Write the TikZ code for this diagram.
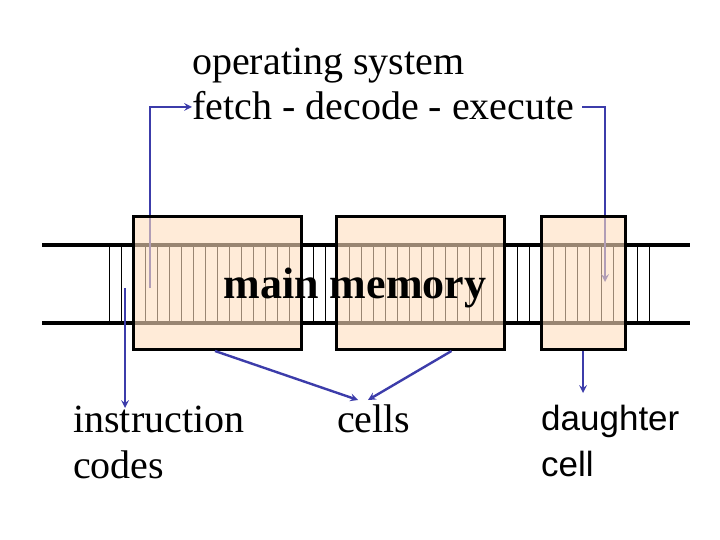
\documentclass[tikz,border=0pt]{standalone}
\usepackage{fontspec}
\setmainfont{Liberation Serif}
\setsansfont{Liberation Sans}
\usetikzlibrary{arrows, positioning, calc}
\definecolor{cellfill}{RGB}{255,222,190}
\definecolor{linkblue}{RGB}{60,60,170}

\begin{document}
\begin{tikzpicture}[
    x=1pt, y=-1pt,
    cell/.style={draw=black, line width=3pt, fill=cellfill, fill opacity=0.6},
    link/.style={->, >=stealth, draw=linkblue, line width=2.4pt},
    label/.style={anchor=base west, font=\fontsize{40}{46}\selectfont, inner sep=0pt},
    sanslabel/.style={label, font=\fontsize{35}{46}\sffamily},
]
\useasboundingbox (0,0) rectangle (720,540);

% Tape
\foreach \x in {109,121,...,652} \draw[line width=0.8pt] (\x,245) -- (\x,323);
\draw[line width=4.5pt] (42,245) -- (690,245);
\draw[line width=4.5pt] (42,323) -- (690,323);

% Arrows behind the cells
\coordinate (osIn) at (150,288);
\coordinate (osOut) at (605,282);
\node[label] (OS) at (192,75) {operating system};
\node[label] (FDE) at (192,120) {fetch - decode - execute};
\draw[link] (osIn) |- (FDE.west |- 0,107);
\draw[link] (582,107) -| (osOut);

% Cells
\node[cell, minimum width=168pt, minimum height=133pt, anchor=north west] (CellA) at (132,215) {};
\node[cell, minimum width=168pt, minimum height=133pt, anchor=north west] (CellB) at (335,215) {};
\node[cell, minimum width=84pt, minimum height=133pt, anchor=north west] (Daughter) at (540,215) {};

\node[label, font=\fontsize{44}{48}\selectfont\bfseries, anchor=base] (Memory) at (355,298) {main memory};

% Labels below
\node[label] (Instr) at (73,432) {instruction};
\node[label] (Codes) at (73,478) {codes};
\node[label] (Cells) at (337,432) {cells};
\node[sanslabel] (DaughterTop) at (541,430) {daughter};
\node[sanslabel] (DaughterCell) at (541,476) {cell};

% Lines
\coordinate (codeTop) at (125,288);
\draw[link] (codeTop) -- (125,408);
\draw[link] (CellA.south west) ++(83,0) -- (358,400);
\draw[link] (CellB.south) ++(31,0) -- (368,400);
\draw[link] (Daughter.south) ++(-0.5,0) -- ++(0,42);
\end{tikzpicture}
\end{document}
